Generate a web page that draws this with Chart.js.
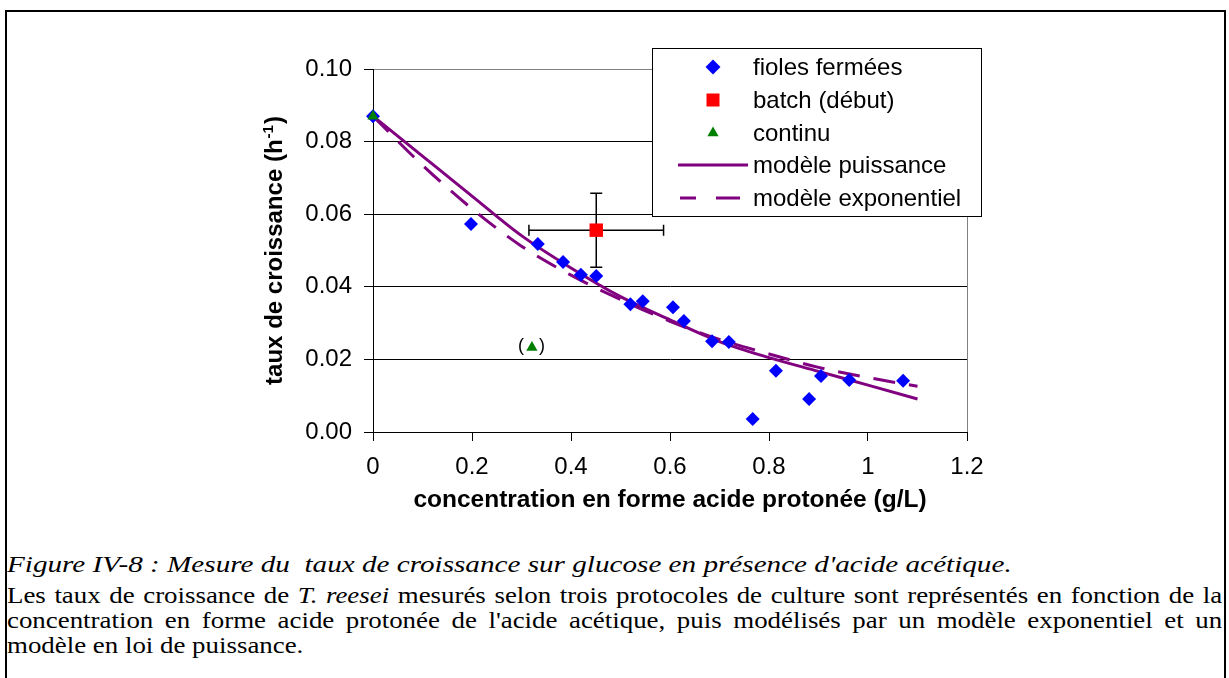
<!DOCTYPE html>
<html><head><meta charset="utf-8">
<script src="https://cdn.jsdelivr.net/npm/chart.js@4.4.1/dist/chart.umd.min.js"></script>
<style>
html,body{margin:0;padding:0;background:#fff;width:1229px;height:678px;overflow:hidden;}
#frame{position:absolute;left:5px;top:10px;width:1217px;height:720px;border:2px solid #000;}
#c{position:absolute;left:0;top:0;}
#cap{position:absolute;left:7px;top:552px;width:1215px;font-family:"Liberation Serif";font-size:24px;line-height:25px;color:#000;}
#cap .p1{white-space:nowrap;transform:scaleX(1.215);transform-origin:0 0;}
#cap .p2{margin-top:6px;width:1085px;transform:scaleX(1.12);transform-origin:0 0;}
#cap .ln{white-space:nowrap;text-align:justify;text-align-last:justify;}
#cap .ln.last{text-align:left;text-align-last:left;}
</style></head>
<body>
<div id="frame"></div>
<canvas id="c" width="1229" height="540"></canvas>
<div id="cap">
<div class="p1"><i>Figure IV-8 : Mesure du&nbsp; taux de croissance sur glucose en présence d'acide acétique.</i></div>
<div class="p2">
<div class="ln">Les taux de croissance de <i>T. reesei</i> mesurés selon trois protocoles de culture sont représentés en fonction de la</div>
<div class="ln">concentration en forme acide protonée de l'acide acétique, puis modélisés par un modèle exponentiel et un</div>
<div class="ln last">modèle en loi de puissance.</div>
</div>
</div>
<script>
// ---- data ----
const fiolesX = [0, 0.198, 0.333, 0.384, 0.420, 0.451, 0.520, 0.545, 0.606, 0.628, 0.685, 0.719, 0.767, 0.814, 0.881, 0.905, 0.962, 1.071];
const fiolesY = [0.087, 0.0573, 0.0518, 0.0468, 0.0433, 0.0430, 0.0352, 0.0360, 0.0344, 0.0306, 0.0250, 0.0248, 0.0036, 0.0169, 0.0091, 0.0154, 0.0143, 0.0141];
const batchX = [0.451];
const batchY = [0.0556];
const batchXErr = [0.136];
const batchYErr = [0.0102];
const continuX = [0, 0.321];
const continuY = [0.087, 0.0233];
const modelX = [0, 0.1, 0.2, 0.3, 0.4, 0.5, 0.6, 0.7, 0.8, 0.9, 1.0, 1.1];
const powerY = [0.087, 0.0760, 0.0650, 0.0541, 0.0452, 0.0373, 0.0309, 0.0249, 0.0205, 0.0167, 0.0129, 0.0091];
const expY   = [0.087, 0.0735, 0.0615, 0.0512, 0.0432, 0.0365, 0.0305, 0.0255, 0.0215, 0.0178, 0.0150, 0.0126];
const xTickLabels = ['0', '0.2', '0.4', '0.6', '0.8', '1', '1.2'];
const yTickLabels = ['0.00', '0.02', '0.04', '0.06', '0.08', '0.10'];
const seriesNames = ['fioles fermées', 'batch (début)', 'continu', 'modèle puissance', 'modèle exponentiel'];
const xTitle = 'concentration en forme acide protonée (g/L)';
const yTitleMain = 'taux de croissance (h';
const yTitleSup = '-1';
const yTitleEnd = ')';

const pts = (xs, ys) => xs.map((x, i) => ({x: x, y: ys[i]}));
const PURPLE = '#800080';
const FONT = '"Liberation Sans", Arial, sans-serif';

const extras = {
  id: 'extras',
  beforeDatasetsDraw(chart) {
    const ctx = chart.ctx, xs = chart.scales.x, ys = chart.scales.y;
    ctx.save();
    ctx.strokeStyle = '#000'; ctx.lineWidth = 1.5;
    batchX.forEach((bx, i) => {
      const cx = xs.getPixelForValue(bx), cy = ys.getPixelForValue(batchY[i]);
      const x1 = xs.getPixelForValue(bx - batchXErr[i]), x2 = xs.getPixelForValue(bx + batchXErr[i]);
      const y1 = ys.getPixelForValue(batchY[i] + batchYErr[i]), y2 = ys.getPixelForValue(batchY[i] - batchYErr[i]);
      ctx.beginPath();
      ctx.moveTo(x1, cy); ctx.lineTo(x2, cy);
      ctx.moveTo(x1, cy - 5.5); ctx.lineTo(x1, cy + 5.5);
      ctx.moveTo(x2, cy - 5.5); ctx.lineTo(x2, cy + 5.5);
      ctx.moveTo(cx, y1); ctx.lineTo(cx, y2);
      ctx.moveTo(cx - 6, y1); ctx.lineTo(cx + 6, y1);
      ctx.moveTo(cx - 6, y2); ctx.lineTo(cx + 6, y2);
      ctx.stroke();
    });
    ctx.restore();
  },
  afterDraw(chart) {
    const ctx = chart.ctx, xs = chart.scales.x, ys = chart.scales.y, a = chart.chartArea;
    ctx.save();
    const px = xs.getPixelForValue(continuX[1]), py = ys.getPixelForValue(continuY[1]);
    ctx.fillStyle = '#000'; ctx.font = '18px ' + FONT;
    ctx.textBaseline = 'middle'; ctx.textAlign = 'center';
    ctx.fillText('(', px - 11, py - 1);
    ctx.fillText(')', px + 10, py - 1);

    ctx.font = 'bold 24.5px ' + FONT;
    ctx.textAlign = 'center'; ctx.textBaseline = 'middle';
    ctx.fillText(xTitle, (a.left + a.right) / 2, 500);

    ctx.save();
    ctx.translate(282, (a.top + a.bottom) / 2);
    ctx.rotate(-Math.PI / 2);
    ctx.textAlign = 'left'; ctx.textBaseline = 'alphabetic';
    const fMain = 'bold 24px ' + FONT, fSup = 'bold 15px ' + FONT;
    ctx.font = fMain; const w1 = ctx.measureText(yTitleMain).width; const w3 = ctx.measureText(yTitleEnd).width;
    ctx.font = fSup; const w2 = ctx.measureText(yTitleSup).width + 2;
    let sx = -(w1 + w2 + w3) / 2;
    ctx.font = fMain; ctx.fillText(yTitleMain, sx, 0);
    ctx.font = fSup; ctx.fillText(yTitleSup, sx + w1 + 1, -9);
    ctx.font = fMain; ctx.fillText(yTitleEnd, sx + w1 + w2, 0);
    ctx.restore();

    const L = 652.5, T = 48.5, W = 329, H = 168;
    ctx.fillStyle = '#fff'; ctx.fillRect(L, T, W, H);
    ctx.strokeStyle = '#000'; ctx.lineWidth = 1; ctx.strokeRect(L, T, W, H);
    const rows = [67, 100, 133, 165, 198];
    const mx = 713, tx = 753;
    ctx.fillStyle = '#0000FF';
    ctx.beginPath(); ctx.moveTo(mx, rows[0] - 7.5); ctx.lineTo(mx + 7.5, rows[0]); ctx.lineTo(mx, rows[0] + 7.5); ctx.lineTo(mx - 7.5, rows[0]); ctx.closePath(); ctx.fill();
    ctx.fillStyle = '#FF0000'; ctx.fillRect(mx - 6.5, rows[1] - 6.5, 13, 13);
    ctx.fillStyle = '#008000';
    ctx.beginPath(); ctx.moveTo(mx, rows[2] - 6.5); ctx.lineTo(mx + 5.6, rows[2] + 3.3); ctx.lineTo(mx - 5.6, rows[2] + 3.3); ctx.closePath(); ctx.fill();
    ctx.strokeStyle = PURPLE; ctx.lineWidth = 3;
    ctx.beginPath(); ctx.moveTo(678, rows[3]); ctx.lineTo(748, rows[3]); ctx.stroke();
    ctx.beginPath(); ctx.moveTo(680, rows[4]); ctx.lineTo(696, rows[4]); ctx.moveTo(716, rows[4]); ctx.lineTo(740, rows[4]); ctx.stroke();
    ctx.fillStyle = '#000'; ctx.font = '24px ' + FONT; ctx.textAlign = 'left'; ctx.textBaseline = 'middle';
    seriesNames.forEach((n, i) => ctx.fillText(n, tx, rows[i] + 1));
    ctx.restore();
  }
};

new Chart(document.getElementById('c'), {
  type: 'scatter',
  data: {
    datasets: [
      {label: seriesNames[2], data: pts(continuX, continuY), pointStyle: 'triangle', pointRadius: 6.5, backgroundColor: '#008000', borderColor: '#008000', pointBorderWidth: 0, borderWidth: 0, order: 0, clip: false},
      {label: seriesNames[1], data: pts(batchX, batchY), pointStyle: 'rect', pointRadius: 9.5, backgroundColor: '#FF0000', borderColor: '#FF0000', pointBorderWidth: 0, borderWidth: 0, order: 1, clip: false},
      {label: seriesNames[0], data: pts(fiolesX, fiolesY), pointStyle: 'rectRot', pointRadius: 7, backgroundColor: '#0000FF', borderColor: '#0000FF', pointBorderWidth: 0, borderWidth: 0, order: 2, clip: false},
      {label: seriesNames[3], data: pts(modelX, powerY), showLine: true, pointRadius: 0, borderColor: PURPLE, borderWidth: 3, cubicInterpolationMode: 'monotone', order: 3},
      {label: seriesNames[4], data: pts(modelX, expY), showLine: true, pointRadius: 0, borderColor: PURPLE, borderWidth: 3, borderDash: [22, 14], cubicInterpolationMode: 'monotone', order: 4}
    ]
  },
  options: {
    responsive: false, animation: false,
    layout: {padding: {left: 253, right: 262, top: 69, bottom: 8}},
    plugins: {legend: {display: false}, tooltip: {enabled: false}},
    scales: {
      x: {
        type: 'linear', min: 0, max: 1.2,
        afterFit: s => { s.height = 100; },
        ticks: {stepSize: 0.2, padding: 12, color: '#000', font: {family: FONT, size: 24}, maxRotation: 0,
                callback: (v, i) => xTickLabels[i]},
        grid: {drawOnChartArea: true, tickLength: 9, tickColor: '#000', tickWidth: 1,
               color: c => (c.tick && Math.abs(c.tick.value - 1.2) < 1e-9) ? '#808080' : 'rgba(0,0,0,0)'},
        border: {color: '#000', width: 1}
      },
      y: {
        type: 'linear', min: 0, max: 0.1,
        afterFit: s => { s.width = 120; },
        ticks: {stepSize: 0.02, padding: 12, color: '#000', font: {family: FONT, size: 24},
                callback: (v, i) => yTickLabels[i]},
        grid: {tickLength: 9, tickColor: '#000', tickWidth: 1,
               color: c => (c.tick && Math.abs(c.tick.value - 0.1) < 1e-9) ? '#808080' : '#000'},
        border: {color: '#000', width: 1}
      }
    }
  },
  plugins: [extras]
});
</script>
</body></html>
